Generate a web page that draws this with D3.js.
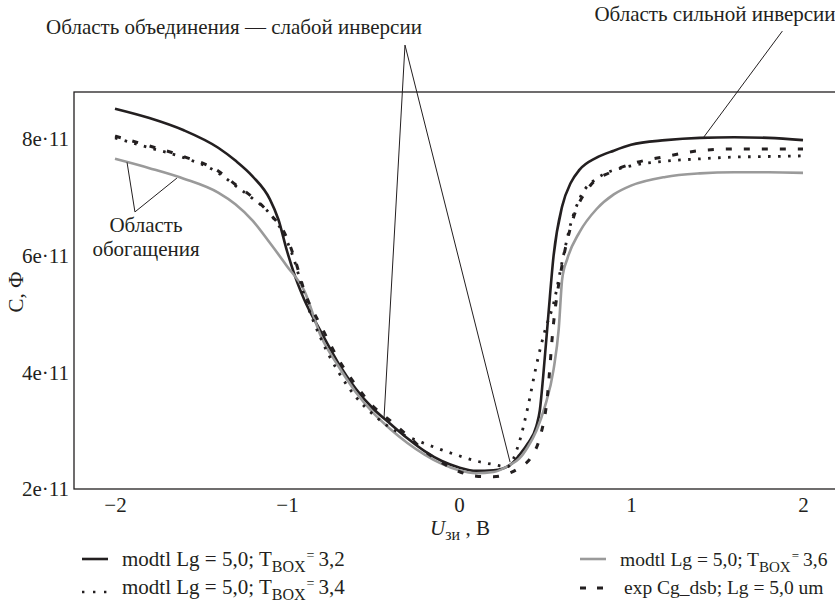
<!DOCTYPE html>
<html>
<head>
<meta charset="utf-8">
<script src="https://cdn.jsdelivr.net/npm/d3@7/dist/d3.min.js"></script>
<style>
  body { margin:0; background:#fff; }
  svg text { font-family:"Liberation Serif","DejaVu Serif",serif; fill:#231f20; }
</style>
</head>
<body>
<svg id="chart" width="835" height="608"></svg>
<script>
// C-V curves, capacitance in units of 1e-11 F, gate voltage in V

// modtl Lg = 5,0; Tbox = 3,2 (solid black)
const u32 = [-2,-1.8,-1.6,-1.4,-1.3,-1.2,-1.1,-1.05,-1.0,-0.95,-0.9,-0.8,-0.7,-0.6,-0.5,-0.4,-0.3,-0.2,-0.1,0,0.1,0.2,0.3,0.35,0.4,0.45,0.47,0.49,0.52,0.55,0.6,0.65,0.7,0.8,0.9,1.0,1.2,1.4,1.6,1.8,2.0];
const c32 = [8.52,8.36,8.15,7.85,7.63,7.36,6.97,6.62,6.08,5.62,5.25,4.68,4.15,3.72,3.38,3.12,2.87,2.65,2.48,2.37,2.31,2.32,2.42,2.58,2.78,3.08,3.35,3.95,5.0,6.0,6.85,7.25,7.47,7.68,7.80,7.90,7.98,8.02,8.03,8.02,7.98];

// modtl Lg = 5,0; Tbox = 3,4 (dotted)
const u34 = [-2,-1.8,-1.6,-1.4,-1.3,-1.2,-1.1,-1.0,-0.95,-0.9,-0.8,-0.7,-0.6,-0.5,-0.4,-0.3,-0.2,-0.1,0,0.1,0.2,0.28,0.35,0.4,0.45,0.5,0.55,0.6,0.65,0.7,0.8,1.0,1.2,1.4,1.6,1.8,2.0];
const c34 = [8.02,7.85,7.68,7.42,7.2,6.98,6.72,6.25,5.85,5.32,4.56,4.0,3.58,3.28,3.05,2.9,2.78,2.67,2.57,2.48,2.42,2.38,2.8,3.4,4.12,4.72,5.18,5.9,6.55,6.97,7.32,7.54,7.62,7.66,7.69,7.7,7.71];

// modtl Lg = 5,0; Tbox = 3,6 (solid grey)
const u36 = [-2,-1.8,-1.6,-1.4,-1.3,-1.2,-1.1,-1.0,-0.9,-0.8,-0.7,-0.6,-0.5,-0.4,-0.3,-0.2,-0.1,0,0.1,0.2,0.3,0.35,0.4,0.45,0.5,0.55,0.58,0.6,0.63,0.7,0.8,0.9,1.0,1.2,1.4,1.6,1.8,2.0];
const c36 = [7.66,7.5,7.32,7.08,6.88,6.6,6.22,5.82,5.4,4.6,4.1,3.66,3.31,3.03,2.79,2.59,2.43,2.32,2.27,2.29,2.42,2.52,2.72,3.0,3.42,4.05,4.75,5.6,5.95,6.4,6.8,7.05,7.2,7.35,7.41,7.43,7.43,7.42];

// exp Cg_dsb; Lg = 5,0 um (dashed)
const uExp = [-2,-1.8,-1.6,-1.4,-1.3,-1.2,-1.1,-1.0,-0.95,-0.9,-0.8,-0.7,-0.6,-0.5,-0.4,-0.3,-0.2,-0.1,0,0.1,0.2,0.3,0.35,0.42,0.47,0.51,0.55,0.6,0.66,0.76,0.88,1.0,1.2,1.4,1.6,1.8,2.0];
const cExp = [8.05,7.88,7.7,7.45,7.22,7.0,6.72,6.3,5.9,5.4,4.78,4.22,3.78,3.42,3.17,2.92,2.65,2.45,2.3,2.22,2.21,2.28,2.36,2.55,2.88,3.48,4.85,5.85,6.6,7.19,7.43,7.57,7.7,7.8,7.83,7.83,7.83];

const xTicks = [-2,-1,0,1,2];
const xTickLabels = ['\u22122','\u22121','0','1','2'];
const yTicks = [2,4,6,8];
const yTickLabels = ['2e\u00b711','4e\u00b711','6e\u00b711','8e\u00b711'];

const series = [
  {u:u32, c:c32, color:'#231f20', width:2.6, dash:null},
  {u:u36, c:c36, color:'#9a9a9a', width:2.6, dash:null},
  {u:u34, c:c34, color:'#231f20', width:2.8, dash:'2.6,7.4'},
  {u:uExp, c:cExp, color:'#231f20', width:3, dash:'6,12'}
];

const FS = 21;
const svg = d3.select('#chart');

// plot frame (right side runs off the picture)
const frame = {left:74, top:92, bottom:489, right:845};

const x = d3.scaleLinear().domain([-2,2]).range([115,803]);
const y = d3.scaleLinear().domain([2,8]).range([489,139]);

svg.append('rect')
  .attr('x', frame.left).attr('y', frame.top)
  .attr('width', frame.right - frame.left).attr('height', frame.bottom - frame.top)
  .attr('fill','none').attr('stroke','#231f20').attr('stroke-width',1.3);

// axes: labels only, no tick marks
const xAxis = d3.axisBottom(x).tickValues(xTicks).tickSize(0).tickPadding(0)
  .tickFormat((d,i) => xTickLabels[i]);
const gx = svg.append('g').attr('transform','translate(0,505)').call(xAxis);
gx.select('.domain').remove();
gx.selectAll('text').attr('dy','0.32em').style('font-size', FS + 'px')
  .style('font-family','"Liberation Serif",serif').attr('fill','#231f20');

const yAxis = d3.axisLeft(y).tickValues(yTicks).tickSize(0).tickPadding(0)
  .tickFormat((d,i) => yTickLabels[i]);
const gy = svg.append('g').attr('transform','translate(69,0)').call(yAxis);
gy.select('.domain').remove();
gy.selectAll('text').style('font-size', FS + 'px')
  .style('font-family','"Liberation Serif",serif').attr('fill','#231f20');

// curves
const line = d3.line().x(d => x(d[0])).y(d => y(d[1])).curve(d3.curveMonotoneX);
series.forEach(s => {
  const pts = s.u.map((v,i) => [v, s.c[i]]);
  svg.append('path').datum(pts)
    .attr('d', line)
    .attr('fill','none')
    .attr('stroke', s.color)
    .attr('stroke-width', s.width)
    .attr('stroke-dasharray', s.dash);
});

// annotations (anchor points in data units)
const annots = [
  {text:['Область объединения — слабой инверсии'], tx:234, ty:34,
   apex:[-0.314, 9.61], targets:[[-0.436, 3.21],[0.297, 2.46]]},
  {text:['Область сильной инверсии'], tx:715, ty:21,
   apex:[1.88, 9.85], targets:[[1.42, 8.02]]},
  {text:['Область','обогащения'], tx:146, ty:232,
   apex:[-1.884, 6.75], targets:[[-1.93, 7.6],[-1.64, 7.33]]}
];
annots.forEach(a => {
  a.targets.forEach(t => {
    svg.append('line')
      .attr('x1', x(a.apex[0])).attr('y1', y(a.apex[1]))
      .attr('x2', x(t[0])).attr('y2', y(t[1]))
      .attr('stroke','#231f20').attr('stroke-width',1);
  });
  a.text.forEach((t,i) => {
    svg.append('text').attr('x', a.tx).attr('y', a.ty + i*24)
      .attr('text-anchor','middle').style('font-size', FS + 'px').text(t);
  });
});

// axis titles
const xt = svg.append('text').attr('x', 460).attr('y', 535).attr('text-anchor','middle').style('font-size', FS + 'px');
xt.append('tspan').style('font-style','italic').text('U');
xt.append('tspan').attr('dy',5).style('font-size','16px').text('зи');
xt.append('tspan').attr('dy',-5).text(' , В');

svg.append('text')
  .attr('transform','translate(23,292) rotate(-90)')
  .attr('text-anchor','middle').style('font-size', FS + 'px').text('С, Ф');

// legend (right column slightly smaller so it fits the picture)
const legend = [
  {x:82, y:566, s:series[0], val:'3,2', sample:'line', fs:21},
  {x:82, y:594, s:series[2], val:'3,4', sample:'dots', fs:21},
  {x:580, y:566, s:series[1], val:'3,6', sample:'line', fs:19.5},
  {x:580, y:594, s:series[3], val:null, sample:'dash', fs:19.5}
];
legend.forEach(l => {
  const g = svg.append('g').attr('transform','translate(' + l.x + ',' + l.y + ')');
  if (l.sample === 'line') {
    g.append('line').attr('x1',0).attr('x2',26).attr('y1',-7).attr('y2',-7)
      .attr('stroke', l.s.color).attr('stroke-width',2.6);
  } else if (l.sample === 'dots') {
    g.append('line').attr('x1',0).attr('x2',26).attr('y1',-2).attr('y2',-2)
      .attr('stroke', l.s.color).attr('stroke-width',2.4)
      .attr('stroke-dasharray','2.4,8.6');
  } else {
    g.append('line').attr('x1',0).attr('x2',26).attr('y1',-6).attr('y2',-6)
      .attr('stroke', l.s.color).attr('stroke-width',3).attr('stroke-dasharray','6,11');
  }
  const sub = Math.round(l.fs * 0.76);
  if (l.val) {
    const t = g.append('text').attr('x',40).attr('y',0).style('font-size', l.fs + 'px');
    t.append('tspan').text('modtl Lg = 5,0; T');
    t.append('tspan').attr('dy',6).style('font-size', sub + 'px').text('BOX');
    t.append('tspan').attr('dx',1).attr('dy',-12).style('font-size', (sub - 2) + 'px').text('=');
    t.append('tspan').attr('dx',4).attr('dy',6).text(l.val);
  } else {
    g.append('text').attr('x',44).attr('y',0).style('font-size', l.fs + 'px')
      .text('exp Cg_dsb; Lg = 5,0 um');
  }
});
</script>
</body>
</html>
